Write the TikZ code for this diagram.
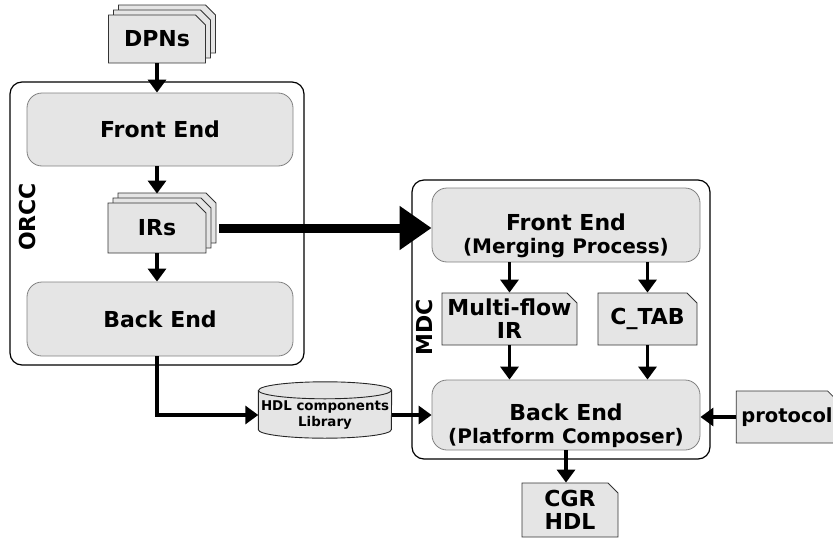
\documentclass[tikz,border=0pt]{standalone}
\usepackage{fontspec}
\setmainfont{DejaVu Sans}
\usetikzlibrary{arrows.meta,shapes.misc,shadows}

\begin{document}
\begin{tikzpicture}[x=1pt,y=-1pt,font=\bfseries\fontsize{22}{23}\selectfont,
    outer/.style={draw,line width=1.2pt,rounded corners=12pt},
    stage/.style={draw=gray,fill=gray!20,line width=0.8pt,rounded corners=15pt,align=center},
    doc/.style={chamfered rectangle,chamfered rectangle corners=north east,
      chamfered rectangle xsep=5pt,chamfered rectangle ysep=5pt,
      draw=black!80,fill=gray!20,line width=0.8pt,align=center,inner sep=0pt},
    stack/.style={doc,double copy shadow={shadow xshift=5pt,shadow yshift=5pt}},
    cyl/.style={draw=black!85,fill=gray!20,line width=0.9pt},
    rim/.style={x radius=66.5pt,y radius=8.5pt},
    arr/.style={-{Triangle[length=13pt,width=18pt]},line width=3.2pt}]
  \useasboundingbox (0,0) rectangle (833,538);

  \node[outer,minimum width=294pt,minimum height=283pt] (orcc) at (157,223.5) {};
  \node[rotate=90] (orcclbl) at (27,217) {ORCC};
  \node[stage,minimum width=266pt,minimum height=73pt] (ofe) at (160,129.5) {Front End};
  \node[stack,minimum width=97pt,minimum height=48pt] (dpns) at (157,39) {DPNs};
  \node[stack,minimum width=98pt,minimum height=50pt] (irs) at (157,228) {IRs};
  \node[stage,minimum width=266pt,minimum height=74pt] (obe) at (160,319) {Back End};

  \node[inner sep=0pt,minimum width=133pt,minimum height=56pt] (lib) at (325,410) {};
  \filldraw[cyl] ([yshift=-8.5pt]lib.north west) -- ([yshift=8.5pt]lib.south west)
    arc[start angle=180,end angle=360,rim] -- ([yshift=-8.5pt]lib.north east)
    arc[start angle=0,end angle=180,rim] -- cycle;
  \draw[cyl,fill=none] ([yshift=-8.5pt]lib.north west) arc[start angle=180,end angle=360,rim];
  \node[align=center,font=\bfseries\fontsize{13.4}{16}\selectfont] (libtxt) at (325,415)
    {HDL components\\Library};

  \node[outer,minimum width=298pt,minimum height=279pt] (mdc) at (561,319.5) {};
  \node[rotate=90] (mdclbl) at (424,327) {MDC};
  \node[stage,minimum width=268pt,minimum height=74pt] (mfe) at (566,225) {};
  \node[align=center] (mfetxt) at (566,236)
    {Front End\\{\fontsize{20}{23}\selectfont (Merging Process)}};
  \node[doc,minimum width=135pt,minimum height=52pt] (mfir) at (509.5,319)
    {Multi-flow\\IR};
  \node[doc,minimum width=99pt,minimum height=52pt] (ctab) at (647.5,319) {C\_TAB};
  \node[stage,minimum width=268pt,minimum height=70pt] (mbe) at (566,415) {};
  \node[align=center] (mbetxt) at (566,426)
    {Back End\\{\fontsize{20}{23}\selectfont (Platform Composer)}};

  \node[doc,minimum width=100pt,minimum height=52pt,
    font=\bfseries\fontsize{19.5}{22}\selectfont] (proto) at (787,417) {protocol};
  \node[doc,minimum width=96pt,minimum height=54pt] (cgr) at (570,510) {CGR\\HDL};

  \draw[arr] (dpns.south) -- (ofe.north -| dpns.south);
  \draw[arr] (ofe.south -| irs.north) -- ([yshift=9pt]irs.north);
  \draw[arr] (irs.south) -- (obe.north -| irs.south);
  \draw[-{Triangle[length=32pt,width=42pt]},line width=9pt]
    ([xshift=13pt]irs.east) -- (irs.east -| mfe.west);
  \draw[arr] (mfe.south -| mfir.north) -- (mfir.north);
  \draw[arr] (mfe.south -| ctab.north) -- (ctab.north);
  \draw[arr] (mfir.south) -- (mbe.north -| mfir.south);
  \draw[arr] (ctab.south) -- (mbe.north -| ctab.south);
  \draw[arr] (obe.south -| irs.south) |- (lib.west |- mbe.west);
  \draw[arr] (lib.east |- mbe.west) -- (mbe.west);
  \draw[arr] (proto.west) -- (proto.west -| mbe.east);
  \draw[arr] (mbe.south) -- (cgr.north -| mbe.south);
\end{tikzpicture}
\end{document}
